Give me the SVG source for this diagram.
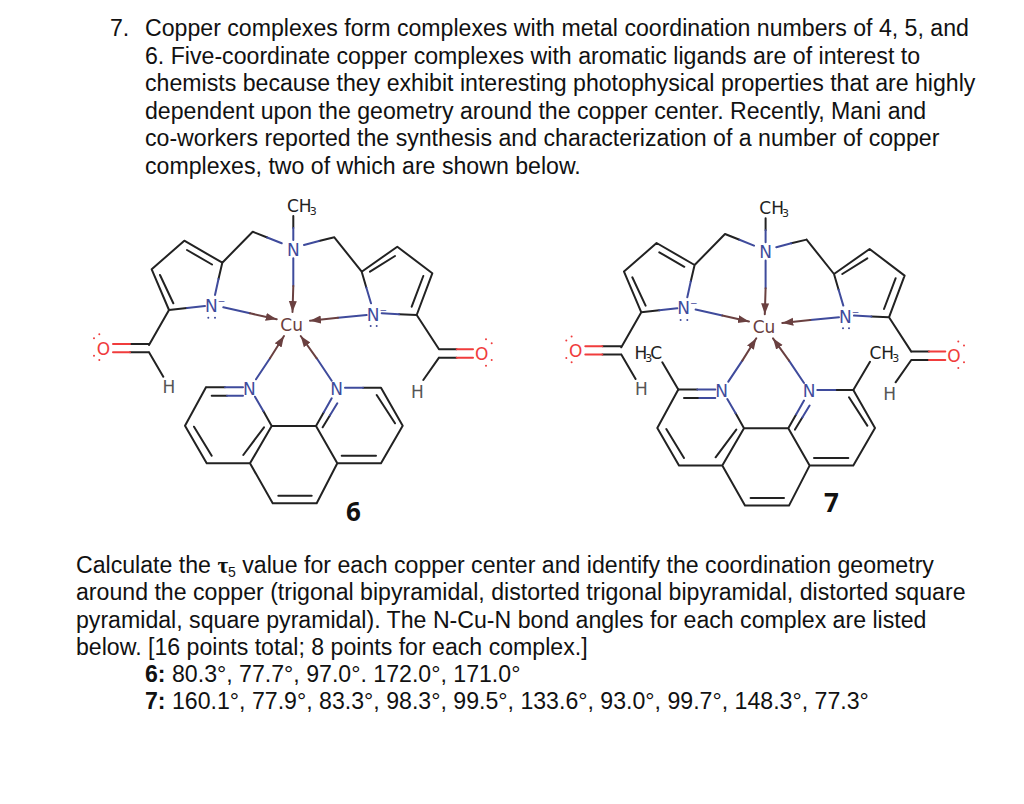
<svg xmlns="http://www.w3.org/2000/svg" width="1024" height="804" viewBox="0 0 1024 804">
<style>
.t{font-family:"Liberation Sans",Arial,sans-serif;font-size:23.14px;fill:#111}
.bd{font-weight:bold}
.a{font-family:"DejaVu Sans",sans-serif;font-size:17px}
.l{font-family:"Open Sans",sans-serif;font-size:26px;font-weight:bold;fill:#111}
.bk,.bl,.br,.rd{fill:none;stroke-width:2;stroke-linecap:round;stroke-linejoin:round}
.bk{stroke:#222}.bl{stroke:#3f4b9c}.br{stroke:#6a4040}.rd{stroke:#f03c3c}
.br{marker-end:url(#ah)}
.tn{fill:#3f4b9c}.tc{fill:#6a4040}.to{fill:#f03c3c}.th{fill:#555}.tk{fill:#222}
.dn{fill:#3f4b9c}.do{fill:#f03c3c}
</style>
<defs>
<marker id="ah" markerUnits="userSpaceOnUse" markerWidth="12" markerHeight="10" refX="11" refY="5" orient="auto"><path d="M0,1 L11,5 L0,9 Z" fill="#6a4040"/></marker>
</defs>
<rect width="1024" height="804" fill="#fff"/>
<g id="question-text">
<text class="t" x="110" y="36">7.</text>
<text class="t" x="145" y="36">Copper complexes form complexes with metal coordination numbers of 4, 5, and</text>
<text class="t" x="145" y="63.5">6. Five-coordinate copper complexes with aromatic ligands are of interest to</text>
<text class="t" x="145" y="91">chemists because they exhibit interesting photophysical properties that are highly</text>
<text class="t" x="145" y="118.5">dependent upon the geometry around the copper center. Recently, Mani and</text>
<text class="t" x="145" y="146">co-workers reported the synthesis and characterization of a number of copper</text>
<text class="t" x="145" y="174">complexes, two of which are shown below.</text>
</g>
<g id="molecule-6">
<g id="m6-bonds">
<path class="bk" d="M293.3 216V228M252.7 231.7L267.2 237.5M334.3 237.3L319 241M252.7 231.7L222.3 262.7L184.3 240.7L151.7 269.3L169 310M334.3 237.3L361.7 271.7L397.3 246.7L432.3 273.3L416.7 315M187 250L212 264.5M160 275L173.3 303.3M370 271.7L395 256M423.3 276L411.7 306.7M222.3 262.7L218.5 279M361.7 271.7L366.3 287.5M169 310L187 308M416.7 315L399 314.2M169 310L149 345M149 352.3L163.3 376.7M149 344H130M149 352.3H130M416.7 315L439 349.3M439 357.7L423.3 380M439 349.3H456.7M439 357.7H456.7"/>
<path class="bl" d="M293.3 228V240M267.2 237.5L281.7 243.3M319 241L304 245M218.5 279L215 295M366.3 287.5L371 303.3M187 308L205 306M399 314.2L381.7 313.3"/>
<path class="rd" d="M130 344H113M130 352.3H113M456.7 349.3H473M456.7 357.7H473"/>
<path class="bk" d="M206 387.3H225M211.7 395.7H227M206 387.3L185 425.7L206.7 463.3H250L271.7 426H316L337.3 463.3H381L402.7 425.7L381 387.7H363M194 426.7L211.7 455.7M243.3 455L264 427.3M263.3 411L271.7 426M316 426L323.8 412.2M322.7 427.3L330 415.3M376.7 395L395 423.3M341.7 455.7H376M250 463.3L272.7 503.3H316.7L337.3 463.3M278.3 495.7H311.7"/>
<path class="bl" d="M225 387.3H243M227 395.7H243M255 396.7L263.3 411M323.8 412.2L331.7 398.3M330 415.3L337.3 403.3M345 387.7H363"/>
<path class="bl" d="M293.3 258.3V286M223.3 307.3L250 313.3M366.7 315L338 317.7M256 379.3L270 358.3M331.7 380.7L316.7 358.3"/>
<path class="br" d="M293.3 286L292.5 312"/>
<path class="br" d="M250 313.3L276.7 319.3"/>
<path class="br" d="M338 317.7L310 320.7"/>
<path class="br" d="M270 358.3L284 336"/>
<path class="br" d="M316.7 358.3L300.7 336"/>
</g>
<g id="m6-ch3-top"><text class="a tk" x="287" y="212">CH<tspan font-size="11" dy="3" dx="-2">3</tspan></text></g>
<g id="m6-n-amine"><text class="a tn" x="293.3" y="256" text-anchor="middle">N</text></g>
<g id="m6-n-left"><text class="a tn" x="205" y="312">N<tspan font-size="9" dy="-8">−</tspan></text><circle class="dn" cx="208.3" cy="317.7" r="1"/><circle class="dn" cx="215" cy="317.7" r="1"/></g>
<g id="m6-n-right"><text class="a tn" x="366.7" y="321">N<tspan font-size="9" dy="-8">−</tspan></text><circle class="dn" cx="370.7" cy="326" r="1"/><circle class="dn" cx="376.7" cy="326" r="1"/></g>
<g id="m6-cu"><text class="a tc" x="291.7" y="331" text-anchor="middle">Cu</text></g>
<g id="m6-o-left"><text class="a to" x="103.5" y="354.5" text-anchor="middle">O</text><circle class="do" cx="99.3" cy="334.3" r="1"/><circle class="do" cx="94" cy="338.3" r="1"/><circle class="do" cx="94" cy="355.7" r="1"/><circle class="do" cx="99.3" cy="360" r="1"/></g>
<g id="m6-o-right"><text class="a to" x="481.7" y="359.5" text-anchor="middle">O</text><circle class="do" cx="486" cy="339.3" r="1"/><circle class="do" cx="491.7" cy="343.3" r="1"/><circle class="do" cx="491.7" cy="360" r="1"/><circle class="do" cx="486" cy="365.7" r="1"/></g>
<g id="m6-h-left"><text class="a th" x="169" y="392.5" text-anchor="middle">H</text></g>
<g id="m6-h-right"><text class="a th" x="417.3" y="397.5" text-anchor="middle">H</text></g>
<g id="m6-n1"><text class="a tn" x="249.3" y="395" text-anchor="middle">N</text></g>
<g id="m6-n2"><text class="a tn" x="336.7" y="395" text-anchor="middle">N</text></g>
<g id="m6-label"><text class="l" x="353.5" y="520.5" text-anchor="middle">6</text></g>
</g>
<g id="molecule-7">
<g id="m7-bonds" transform="translate(472.3 2.3)">
<path class="bk" d="M293.3 216V228M252.7 231.7L267.2 237.5M334.3 237.3L319 241M252.7 231.7L222.3 262.7L184.3 240.7L151.7 269.3L169 310M334.3 237.3L361.7 271.7L397.3 246.7L432.3 273.3L416.7 315M187 250L212 264.5M160 275L173.3 303.3M370 271.7L395 256M423.3 276L411.7 306.7M222.3 262.7L218.5 279M361.7 271.7L366.3 287.5M169 310L187 308M416.7 315L399 314.2M169 310L149 345M149 352.3L163.3 376.7M149 344H130M149 352.3H130M416.7 315L439 349.3M439 357.7L423.3 380M439 349.3H456.7M439 357.7H456.7"/>
<path class="bl" d="M293.3 228V240M267.2 237.5L281.7 243.3M319 241L304 245M218.5 279L215 295M366.3 287.5L371 303.3M187 308L205 306M399 314.2L381.7 313.3"/>
<path class="rd" d="M130 344H113M130 352.3H113M456.7 349.3H473M456.7 357.7H473"/>
<path class="bk" d="M206 387.3H225M211.7 395.7H227M206 387.3L185 425.7L206.7 463.3H250L271.7 426H316L337.3 463.3H381L402.7 425.7L381 387.7H363M194 426.7L211.7 455.7M243.3 455L264 427.3M263.3 411L271.7 426M316 426L323.8 412.2M322.7 427.3L330 415.3M376.7 395L395 423.3M341.7 455.7H376M250 463.3L272.7 503.3H316.7L337.3 463.3M278.3 495.7H311.7"/>
<path class="bl" d="M225 387.3H243M227 395.7H243M255 396.7L263.3 411M323.8 412.2L331.7 398.3M330 415.3L337.3 403.3M345 387.7H363"/>
<path class="bl" d="M293.3 258.3V286M223.3 307.3L250 313.3M366.7 315L338 317.7M256 379.3L270 358.3M331.7 380.7L316.7 358.3"/>
<path class="br" d="M293.3 286L292.5 312"/>
<path class="br" d="M250 313.3L276.7 319.3"/>
<path class="br" d="M338 317.7L310 320.7"/>
<path class="br" d="M270 358.3L284 336"/>
<path class="br" d="M316.7 358.3L300.7 336"/>
<path class="bk" d="M206 387.3L190 360M381 387.7L397.7 359.5"/>
</g>
<g id="m7-ch3-top"><text class="a tk" x="759.3" y="214.3">CH<tspan font-size="11" dy="3" dx="-2">3</tspan></text></g>
<g id="m7-n-amine"><text class="a tn" x="765.6" y="258.3" text-anchor="middle">N</text></g>
<g id="m7-n-left"><text class="a tn" x="677.3" y="314.3">N<tspan font-size="9" dy="-8">−</tspan></text><circle class="dn" cx="680.6" cy="320" r="1"/><circle class="dn" cx="687.3" cy="320" r="1"/></g>
<g id="m7-n-right"><text class="a tn" x="839" y="323.3">N<tspan font-size="9" dy="-8">−</tspan></text><circle class="dn" cx="843" cy="328.3" r="1"/><circle class="dn" cx="849" cy="328.3" r="1"/></g>
<g id="m7-cu"><text class="a tc" x="764" y="333.3" text-anchor="middle">Cu</text></g>
<g id="m7-o-left"><text class="a to" x="575.8" y="356.8" text-anchor="middle">O</text><circle class="do" cx="571.6" cy="336.6" r="1"/><circle class="do" cx="566.3" cy="340.6" r="1"/><circle class="do" cx="566.3" cy="358" r="1"/><circle class="do" cx="571.6" cy="362.3" r="1"/></g>
<g id="m7-o-right"><text class="a to" x="954" y="361.8" text-anchor="middle">O</text><circle class="do" cx="958.3" cy="341.6" r="1"/><circle class="do" cx="964" cy="345.6" r="1"/><circle class="do" cx="964" cy="362.3" r="1"/><circle class="do" cx="958.3" cy="368" r="1"/></g>
<g id="m7-h-left"><text class="a th" x="641.3" y="394.8" text-anchor="middle">H</text></g>
<g id="m7-h-right"><text class="a th" x="889.6" y="399.8" text-anchor="middle">H</text></g>
<g id="m7-n1"><text class="a tn" x="721.6" y="397.3" text-anchor="middle">N</text></g>
<g id="m7-n2"><text class="a tn" x="809" y="397.3" text-anchor="middle">N</text></g>
<g id="m7-h3c"><text class="a tk" x="634.5" y="359">H<tspan font-size="11" dy="3" dx="-2">3</tspan><tspan dy="-3" dx="-2">C</tspan></text></g>
<g id="m7-ch3-right"><text class="a tk" x="869.5" y="359">CH<tspan font-size="11" dy="3" dx="-2">3</tspan></text></g>
<g id="m7-label"><text class="l" x="831.5" y="511.5" text-anchor="middle">7</text></g>
</g>
<g id="task-text">
<text class="t" x="76" y="572.5">Calculate the <tspan font-family="'Liberation Serif',serif" font-weight="bold">τ</tspan><tspan font-size="14" dy="4">5</tspan><tspan dy="-4"> value for each copper center and identify the coordination geometry</tspan></text>
<text class="t" x="76" y="600">around the copper (trigonal bipyramidal, distorted trigonal bipyramidal, distorted square</text>
<text class="t" x="76" y="627.5">pyramidal, square pyramidal). The N-Cu-N bond angles for each complex are listed</text>
<text class="t" x="76" y="655">below. [16 points total; 8 points for each complex.]</text>
<text class="t" x="145" y="682"><tspan class="bd">6:</tspan> 80.3°, 77.7°, 97.0°. 172.0°, 171.0°</text>
<text class="t" x="145" y="709"><tspan class="bd">7:</tspan> 160.1°, 77.9°, 83.3°, 98.3°, 99.5°, 133.6°, 93.0°, 99.7°, 148.3°, 77.3°</text>
</g>
</svg>
